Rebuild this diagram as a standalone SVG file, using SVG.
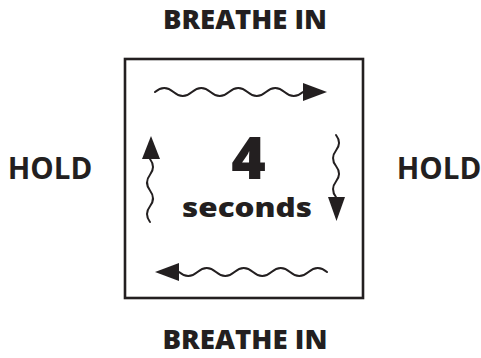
<svg xmlns="http://www.w3.org/2000/svg" width="481" height="358" viewBox="0 0 481 358">
<style>
.lbl{font-family:"Open Sans","Liberation Sans",sans-serif;font-weight:800;fill:#231f20;}
.hold{font-weight:700;}
.wave{fill:none;stroke:#231f20;stroke-width:2;stroke-linecap:round;}
.head{fill:#231f20;}
</style>
<rect width="481" height="358" fill="#fff"/>
<g id="box">
<rect x="125" y="59" width="238" height="239" fill="#fff" stroke="#231f20" stroke-width="2.6"/>
</g>
<g id="label-top"><text class="lbl" x="245" y="29" font-size="26.5" text-anchor="middle" textLength="164" lengthAdjust="spacingAndGlyphs">BREATHE IN</text></g>
<g id="label-bottom"><text class="lbl" x="245" y="349" font-size="26.5" text-anchor="middle" textLength="165" lengthAdjust="spacingAndGlyphs">BREATHE IN</text></g>
<g id="label-left"><text class="lbl hold" x="50" y="179" font-size="29.5" text-anchor="middle">HOLD</text></g>
<g id="label-right"><text class="lbl hold" x="439" y="179" font-size="29.5" text-anchor="middle">HOLD</text></g>
<g id="center">
<text class="lbl" x="248.5" y="179" font-size="59" text-anchor="middle">4</text>
<text class="lbl" x="247" y="217" font-size="26.5" text-anchor="middle" textLength="130" lengthAdjust="spacingAndGlyphs">seconds</text>
</g>
<g id="connectors">
<path class="wave" d="M155,92 q9.25,-8 18.5,0 t18.5,0 t18.5,0 t18.5,0 t18.5,0 t18.5,0 t18.5,0 t18.5,0"/>
<polygon class="head" points="303,83 327,92 303,101"/>
<path class="wave" d="M327,272 q-9.25,-8 -18.5,0 t-18.5,0 t-18.5,0 t-18.5,0 t-18.5,0 t-18.5,0 t-18.5,0 t-18.5,0"/>
<polygon class="head" points="179,263 155,272 179,281"/>
<path class="wave" d="M150,222 q-6,-8 0,-15.75 t0,-15.75 t0,-15.75 t0,-15.75"/>
<polygon class="head" points="142,159 151,136 160,159"/>
<path class="wave" d="M336,135 q6,7.75 0,15.5 t0,15.5 t0,15.5 t0,15.5"/>
<polygon class="head" points="328,197 336.5,221 345,197"/>
</g>
</svg>
